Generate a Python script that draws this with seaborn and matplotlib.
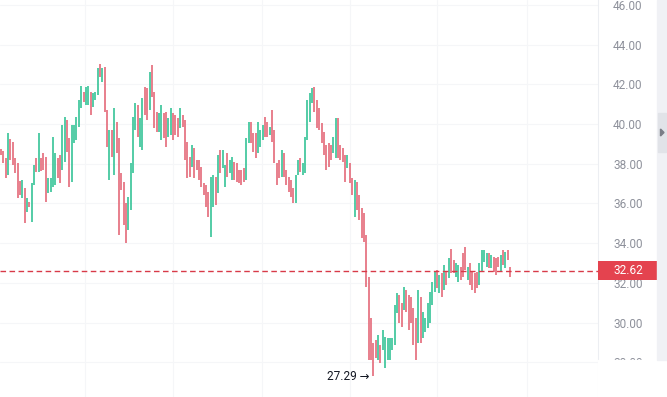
import numpy as np
import pandas as pd
import matplotlib
matplotlib.use("Agg")
import matplotlib.pyplot as plt
from matplotlib.patches import Rectangle, Polygon
import seaborn as sns

# price bars, left to right (high / low per bar)
highs = [
    38.73, 38.66, 38.27, 39.53, 39.25, 39.08, 38.31, 38.02, 37.13, 37.18, 36.76, 36.26,
    36.09, 37.01, 37.94, 38.27, 39.53, 38.27, 38.53, 38.36, 37.27, 37.27, 39.37, 38.53,
    38.27, 38.44, 39.95, 40.37, 40.21, 39.28, 39.95, 39.95, 40.37, 41.21, 41.94, 41.63,
    41.88, 41.94, 41.63, 41.55, 41.63, 42.84, 43.01, 42.84, 42.89, 40.71, 39.70, 39.70,
    40.79, 40.12, 39.28, 37.52, 37.10, 36.01, 36.34, 38.02, 40.37, 41.05, 40.96, 40.29,
    41.30, 41.88, 41.80, 42.64, 42.98, 41.63, 40.63, 40.54, 40.96, 40.54, 40.63, 40.29, 40.79,
    40.54, 40.46, 40.29, 40.79, 40.46, 40.20, 39.11, 38.36, 38.95, 38.78, 38.19, 38.19,
    37.85, 37.01, 36.93, 36.59, 37.35, 37.43, 37.35, 38.44, 38.69, 38.69, 37.94, 38.53,
    38.19, 38.36, 38.11, 38.02, 37.69, 37.69, 37.77, 39.28, 40.12, 40.12, 39.53, 39.53, 40.12,
    39.70, 39.95, 40.37, 40.12, 39.87, 40.71, 39.70, 38.02, 38.19, 38.69, 38.52, 37.68,
    37.35, 37.18, 36.76, 37.43, 38.19, 38.27, 38.02, 39.36, 41.21, 41.55, 41.83, 41.88,
    41.21, 40.79, 40.03, 39.62, 38.94, 39.03, 38.94, 39.36, 40.29, 40.29, 38.94, 38.78, 38.44,
    38.44, 38.02, 37.27, 37.18, 37.10, 36.43, 35.75, 35.50, 34.41, 32.31, 30.21, 28.95,
    29.12, 29.37, 28.87, 29.62, 29.29, 29.20, 29.20, 29.20, 30.88, 31.47, 31.39, 30.97,
    31.81, 31.64, 31.39, 31.30, 30.72, 30.21, 31.64, 31.30, 30.55, 30.21, 30.97, 31.55, 32.06,
    32.56, 32.65, 32.39, 32.48, 32.90, 32.56, 33.23, 33.70, 33.15, 32.98, 32.90, 32.81,
    33.49, 33.82, 32.81, 32.98, 32.56, 32.48, 32.56, 32.98, 33.65, 33.65, 33.49, 33.49,
    33.40, 33.32, 33.23, 33.32, 33.40, 33.65, 33.57, 33.65, 32.82,
]
lows = [
    38.44, 38.02, 37.30, 37.43, 38.19, 37.94, 37.52, 36.29, 36.43, 36.26, 35.00, 35.59,
    35.84, 35.08, 36.93, 37.57, 37.60, 37.64, 37.69, 36.09, 36.51, 36.60, 36.85, 36.93,
    37.27, 37.01, 37.69, 38.11, 38.61, 36.85, 37.10, 39.03, 39.20, 39.87, 40.79, 41.13,
    40.96, 40.96, 40.46, 40.88, 41.21, 41.47, 42.39, 42.14, 40.63, 38.86, 37.18, 38.36,
    37.43, 38.53, 34.41, 36.68, 34.92, 33.99, 34.66, 35.67, 37.52, 39.70, 39.37, 38.86,
    38.69, 40.46, 40.21, 40.71, 41.38, 39.79, 39.62, 39.62, 39.20, 39.28, 38.86, 39.37, 39.45,
    39.20, 39.45, 39.37, 39.79, 39.87, 38.19, 37.27, 37.35, 37.85, 37.27, 37.69, 37.18,
    36.85, 36.43, 35.84, 35.34, 34.33, 35.84, 35.92, 36.51, 37.52, 37.77, 36.85, 37.35,
    37.52, 37.18, 37.18, 37.10, 37.01, 36.93, 37.10, 37.18, 39.03, 39.03, 38.61, 38.27, 38.53,
    38.86, 39.20, 39.36, 39.36, 39.45, 39.11, 38.02, 36.93, 37.26, 37.35, 37.35, 36.93,
    36.59, 36.34, 36.00, 36.00, 37.43, 37.60, 37.43, 37.52, 39.20, 40.12, 41.04, 40.62,
    39.78, 39.70, 39.03, 38.44, 37.68, 37.85, 38.19, 38.52, 38.27, 38.27, 38.19, 38.10, 37.10,
    37.77, 37.01, 36.43, 35.33, 35.67, 35.17, 34.24, 34.07, 31.81, 28.11, 28.11, 27.29,
    28.20, 28.11, 27.95, 28.62, 27.69, 28.11, 28.11, 28.62, 28.87, 30.46, 29.96, 29.79,
    30.63, 30.55, 29.62, 29.96, 28.87, 28.11, 28.95, 28.95, 29.20, 29.54, 29.71, 29.96, 30.88,
    31.56, 31.72, 31.47, 31.30, 31.64, 31.89, 32.23, 32.48, 32.48, 32.31, 32.06, 32.14,
    32.31, 32.65, 32.14, 31.89, 31.64, 31.47, 31.72, 31.89, 32.56, 33.07, 32.81, 32.73,
    32.73, 32.56, 32.39, 32.81, 32.56, 32.90, 32.73, 33.15, 32.30,
]
# G = up bar, R = down bar
directions = (
    "RRRGRRRRRGRGRGGRGRRRGGGGRRGGRRGGGGGR"
    "GGRGGGRGRRGRGRRRRRGGGGRGGRRGRRRGGRRGG"
    "RRRGRRRRGRRRRRRRGGRGRGGRGGRRRRRGGRRRG"
    "GGRRGRRRRGRRRRRGGRGGGGGRRRRRRRRGGRRRR"
    "GRRGRRRRRRRRRGRGGGGGGGRRGRRRRRGRGGGGG"
    "GRGRGRGRRGGRRRGRRRRGGGGRGRRRGRGRR"
)
last_price = 32.62
price_ticks = [28, 30, 32, 34, 36, 38, 40, 42, 44, 46]
grid_bars = [35.6, 73.0, 110.7, 148.1, 185.0, 223.2]

df = pd.DataFrame({"high": highs, "low": lows, "dir": list(directions)})
df["bar"] = np.arange(len(df))

sns.set_theme(style="white")
plt.rcParams["font.family"] = ["Roboto", "DejaVu Sans"]

W, H = 667, 397
fig = plt.figure(figsize=(W / 100, H / 100), dpi=100)
ax = fig.add_axes([0, 0, 598 / W, 1])

palette = {"G": "#36c497", "R": "#e46a79"}
ax.vlines(df["bar"], df["low"], df["high"], colors=df["dir"].map(palette), lw=1.2)

ax.set_xlim(-0.45, 253.3)
ax.set_ylim(26.25, 46.25)
ax.set_xticks(grid_bars)
ax.set_xticklabels([])
ax.set_yticks(price_ticks)
ax.set_yticklabels([f"{v:.2f}" for v in price_ticks])
ax.yaxis.tick_right()
ax.tick_params(axis="y", length=0, pad=10.8, labelsize=8.5, labelcolor="#8e919b")
ax.tick_params(axis="x", length=0)
ax.grid(True, color="#f5f6f8", lw=0.75)
for s in ax.spines.values():
    s.set_visible(False)
ax.spines["right"].set_visible(True)
ax.spines["right"].set_color("#eceef2")
ax.spines["right"].set_linewidth(0.75)

ax.axhline(last_price, color="#d83a48", lw=1.0, ls=(0, (4, 2.5)))

# lowest bar marker
i_low = df["low"].idxmin()
ax.annotate(f"{df.loc[i_low, 'low']:.2f} →", xy=(i_low, df.loc[i_low, "low"]),
            xytext=(-4, 0), textcoords="offset pixels", ha="right", va="center",
            fontsize=8.5, color="#131722")

# last price tag on the price scale
ax2 = fig.add_axes([598 / W, 0, 60 / W, 1])
ax2.set_ylim(ax.get_ylim())
ax2.set_xlim(0, 1)
ax2.axis("off")
ax2.add_patch(Rectangle((0, last_price - 0.49), 1, 0.98, color="#e4434f", lw=0))
ax2.text(0.5, last_price, f"{last_price:.2f}", ha="center", va="center",
         color="white", fontsize=8.5)

# bottom of price scale is blank, plus the side strip
fig.add_artist(Rectangle((598 / W, 0), 69 / W, 37 / H, transform=fig.transFigure,
                         color="white", zorder=10))
fig.add_artist(Rectangle((657 / W, 37 / H), 10 / W, 360 / H, transform=fig.transFigure,
                         color="#f0f1f5", zorder=10))
fig.add_artist(Rectangle((658 / W, 1 - 152 / H), 8 / W, 39 / H, transform=fig.transFigure,
                         color="#e1e3e8", zorder=11))
fig.add_artist(Polygon([(660.5 / W, 1 - 129 / H), (660.5 / W, 1 - 136 / H), (664 / W, 1 - 132.5 / H)],
                       closed=True, transform=fig.transFigure, color="#7a7d86", zorder=12))

fig.savefig("out.png", dpi=100)
